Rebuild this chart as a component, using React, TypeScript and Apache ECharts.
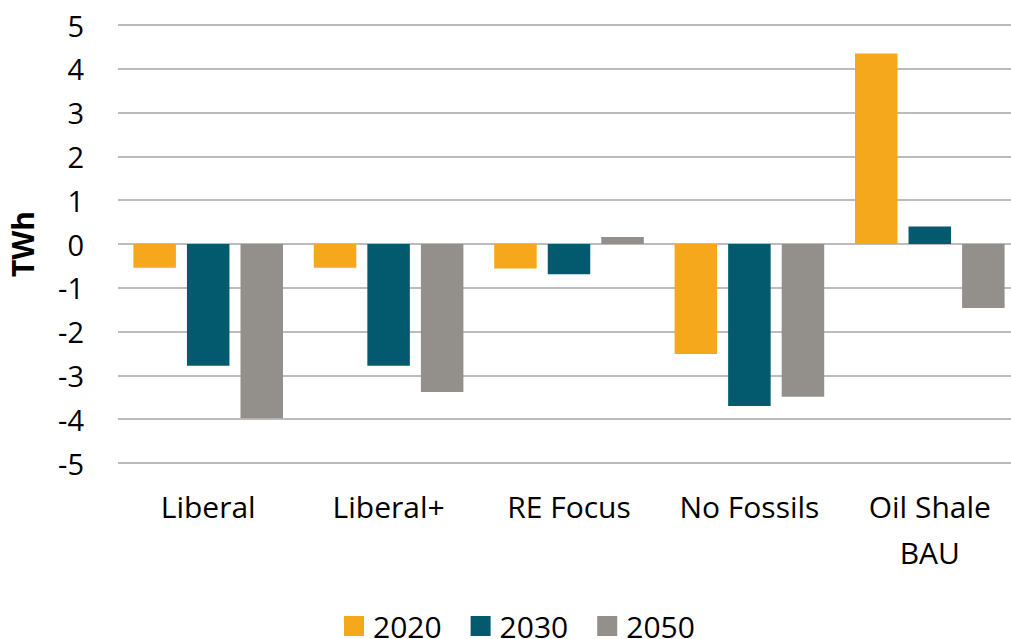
import React, { useEffect, useRef } from "react";
import * as echarts from "echarts";

const categories = ["Liberal", "Liberal+", "RE Focus", "No Fossils", "Oil Shale\nBAU"];
const seriesNames = ["2020", "2030", "2050"];
const values2020 = [-0.54, -0.54, -0.56, -2.51, 4.35];
const values2030 = [-2.78, -2.78, -0.69, -3.7, 0.4];
const values2050 = [-3.98, -3.38, 0.16, -3.49, -1.46];
const colors = ["#F6A81C", "#03596E", "#938F8B"];

const FONT = "'Open Sans', sans-serif";

export default function App() {
  const ref = useRef<HTMLDivElement>(null);
  useEffect(() => {
    document.body.style.margin = "0";
    if (!ref.current) return;
    const chart = echarts.init(ref.current, undefined, { renderer: "svg" });
    const seriesData = [values2020, values2030, values2050];
    chart.setOption({
      animation: false,
      textStyle: { fontFamily: FONT },
      grid: {
        left: 118,
        top: 25,
        width: 902,
        height: 438,
        containLabel: false,
        outerBoundsMode: "none",
      },
      legend: {
        left: 339,
        top: 606,
        itemWidth: 20,
        itemHeight: 20,
        itemGap: 29,
        icon: "rect",
        textStyle: {
          fontSize: 30,
          lineHeight: 30,
          color: "#000",
          fontFamily: FONT,
          padding: [0, 0, 0, 4],
        },
        data: seriesNames,
      },
      xAxis: {
        type: "category",
        data: categories,
        axisLine: { show: false, onZero: false },
        axisTick: { show: false },
        axisLabel: {
          fontSize: 30,
          color: "#000",
          fontFamily: FONT,
          margin: 20,
          lineHeight: 46,
          interval: 0,
        },
      },
      yAxis: {
        type: "value",
        min: -5,
        max: 5,
        interval: 1,
        name: "TWh",
        nameLocation: "middle",
        nameRotate: 90,
        nameGap: 81,
        nameTextStyle: { fontSize: 30, fontWeight: "bold", color: "#000", fontFamily: FONT },
        axisLine: { show: false },
        axisTick: { show: false },
        axisLabel: { fontSize: 29, color: "#000", fontFamily: FONT, margin: 34 },
        splitLine: { lineStyle: { color: "#A6A6A6", width: 1.5 } },
      },
      series: seriesNames.map((name, i) => ({
        name,
        type: "bar",
        data: seriesData[i],
        barWidth: 42.5,
        barGap: "26%",
        itemStyle: { color: colors[i] },
      })),
    });
    return () => chart.dispose();
  }, []);
  return <div ref={ref} style={{ width: 1011, height: 639 }} />;
}
